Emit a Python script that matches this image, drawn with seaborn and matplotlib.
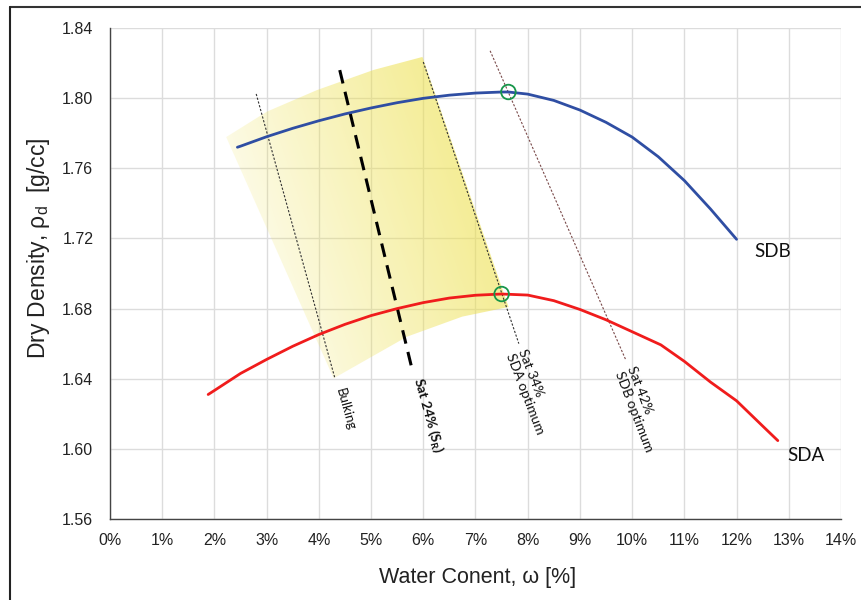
import numpy as np
import pandas as pd
import matplotlib
matplotlib.use("Agg")
import matplotlib.pyplot as plt
import seaborn as sns
from matplotlib.patches import Polygon
from matplotlib.lines import Line2D
from matplotlib.ticker import MultipleLocator, FuncFormatter

# ---------------- data ----------------
sdb_w = [2.44, 2.5, 3.0, 3.5, 4.0, 4.5, 5.0, 5.5, 6.0, 6.5, 7.0, 7.5, 7.63, 8.0,
         8.5, 9.0, 9.5, 10.0, 10.5, 11.0, 11.5, 12.0]
sdb_rho = [1.772, 1.7726, 1.7780, 1.7828, 1.7871, 1.7910, 1.7944, 1.7974, 1.7999, 1.8017,
           1.8029, 1.8035, 1.8035, 1.8023, 1.7987, 1.7932, 1.7862, 1.7778, 1.7666, 1.7530,
           1.7368, 1.7195]

sda_w = [1.88, 2.0, 2.5, 3.0, 3.5, 4.0, 4.5, 5.0, 5.5, 6.0, 6.5, 7.0, 7.5, 8.0, 8.5,
         9.0, 9.5, 10.0, 10.55, 11.0, 11.5, 12.0, 12.5, 12.79]
sda_rho = [1.631, 1.6333, 1.6430, 1.6510, 1.6585, 1.6652, 1.6710, 1.6760, 1.6800, 1.6834,
           1.6860, 1.6876, 1.6883, 1.6877, 1.6845, 1.6795, 1.6736, 1.6668, 1.6593, 1.6499,
           1.6381, 1.6274, 1.6130, 1.6047]

optimum_w = [7.63, 7.5]
optimum_rho = [1.8035, 1.6883]

zone_w = [2.225, 3.005, 3.964, 5.050, 5.984, 7.633, 6.745, 5.690, 4.283]
zone_rho = [1.7778, 1.7923, 1.8046, 1.8161, 1.8235, 1.6809, 1.6754, 1.6640, 1.6402]

bulking_w = [2.80, 4.31]
bulking_rho = [1.8024, 1.640]
sat24_w = [4.40, 5.77]
sat24_rho = [1.816, 1.6473]
sat34_w = [6.00, 7.83]
sat34_rho = [1.8206, 1.660]
sat42_w = [7.28, 9.88]
sat42_rho = [1.827, 1.6506]

x_ticks = list(range(0, 15))
y_ticks = [1.56, 1.60, 1.64, 1.68, 1.72, 1.76, 1.80, 1.84]

# ---------------- style ----------------
sns.set_style("white")
plt.rcParams['font.family'] = ['Liberation Sans', 'DejaVu Sans']
plt.rcParams['mathtext.fontset'] = 'custom'
plt.rcParams['mathtext.rm'] = 'Liberation Sans'
plt.rcParams['mathtext.bf'] = 'Lato:bold'

fig = plt.figure(figsize=(8.62, 6.0), dpi=100)
ax = fig.add_axes([110/862, 1-519/600, 731/862, 491/600])
ax.set_xlim(0, 14)
ax.set_ylim(1.56, 1.84)

# grid
ax.set_xticks(x_ticks)
ax.set_yticks(y_ticks)
ax.grid(True, which='major', color='#dcdcdc', linewidth=1.0, zorder=0)
ax.set_axisbelow(True)

# gradient zone
verts = np.column_stack([zone_w, zone_rho])
poly = Polygon(verts, closed=True, facecolor='none', edgecolor='none', transform=ax.transData)
ax.add_patch(poly)
gx = np.linspace(1.5, 8.5, 400)
gy = np.linspace(1.62, 1.84, 300)
GX, GY = np.meshgrid(gx, gy)
U = GX * 52.14
V = (1.84 - GY) * 491 / 0.28
T = (U * 284 - V * 95) / np.hypot(284, 95)
t0, t1 = 15.0, 295.0
a = np.clip((T - t0) / (t1 - t0), 0, 1) ** 0.9
rgba = np.zeros(GX.shape + (4,))
rgba[..., 0] = 0.93
rgba[..., 1] = 0.88
rgba[..., 2] = 0.30
rgba[..., 3] = 0.60 * a
im = ax.imshow(rgba, extent=(gx[0], gx[-1], gy[0], gy[-1]), origin='lower',
               aspect='auto', zorder=1, interpolation='bilinear')
im.set_clip_path(poly)

# reference lines
ax.plot(bulking_w, bulking_rho, color='#333333', lw=0.8, ls=(0, (2, 1.5)), zorder=2)
ax.plot(sat24_w, sat24_rho, color='black', lw=2.2, ls=(0, (4.5, 2.8)), zorder=2)
ax.plot(sat34_w, sat34_rho, color='#333333', lw=0.8, ls=(0, (2, 1.5)), zorder=2)
ax.plot(sat42_w, sat42_rho, color='#7a4a4a', lw=0.8, ls=(0, (2, 1.5)), zorder=2)

# curves
df_b = pd.DataFrame({'w': sdb_w, 'rho': sdb_rho})
df_a = pd.DataFrame({'w': sda_w, 'rho': sda_rho})
sns.lineplot(data=df_b, x='w', y='rho', color='#2f4ea3', lw=2.0, sort=False,
             estimator=None, ax=ax, zorder=3)
sns.lineplot(data=df_a, x='w', y='rho', color='#f01c1c', lw=2.0, sort=False,
             estimator=None, ax=ax, zorder=3)
sns.scatterplot(x=optimum_w, y=optimum_rho, s=110, facecolor='none',
                edgecolor='#17964a', linewidth=1.3, ax=ax, zorder=4)

# spines / ticks
for s in ['top', 'right']:
    ax.spines[s].set_visible(False)
for s in ['left', 'bottom']:
    ax.spines[s].set_color('#444444')
    ax.spines[s].set_linewidth(1.0)
ax.xaxis.set_minor_locator(MultipleLocator(0.5))
ax.yaxis.set_minor_locator(MultipleLocator(0.01))
ax.tick_params(axis='both', which='major', direction='inout', length=8, width=1,
               color='#444444', labelsize=11.5, labelcolor='#222222')
ax.tick_params(axis='both', which='minor', direction='in', length=4, width=1, color='#444444')
ax.tick_params(axis='y', which='major', pad=8)
ax.tick_params(axis='x', which='major', pad=6)
ax.xaxis.set_major_formatter(FuncFormatter(lambda v, p: f"{v:.0f}%"))
ax.yaxis.set_major_formatter(FuncFormatter(lambda v, p: f"{v:.2f}"))

ax.set_xlabel('Water Conent, ω [%]', fontsize=15.5, color='#222222')
ax.set_ylabel(r'Dry Density, ρ$_\mathrm{d}$  [g/cc]', fontsize=16.5, color='#222222')
ax.xaxis.set_label_coords(0.503, -0.098)
ax.yaxis.set_label_coords(-0.079, 0.552)

# annotations
txt = dict(family=['Lato', 'DejaVu Sans'], color='#111111')
ax.text(12.34, 1.7123, 'SDB', fontsize=13.5, ha='left', va='center', **txt)
ax.text(12.98, 1.5962, 'SDA', fontsize=13.5, ha='left', va='center', **txt)
ax.text(4.51, 1.6227, 'Bulking', fontsize=9.5, rotation=-74.5, ha='center', va='center',
        rotation_mode='anchor', **txt)
ax.text(6.09, 1.6193, r'Sat 24% (S$_\mathbf{R}$)', fontsize=10, fontweight='bold', rotation=-74.5,
        ha='center', va='center', rotation_mode='anchor', **txt)
ax.text(8.06, 1.6326, 'Sat 34%\nSDA optimum', fontsize=10, rotation=-69, ha='center', va='center',
        multialignment='left', linespacing=1.1, rotation_mode='anchor', **txt)
ax.text(10.15, 1.6227, 'Sat 42%\nSDB optimum', fontsize=10, rotation=-69, ha='center', va='center',
        multialignment='left', linespacing=1.1, rotation_mode='anchor', **txt)

# figure frame (top and left)
fig.add_artist(Line2D([10/862, 1.0], [1-7/600, 1-7/600], transform=fig.transFigure, color='#333333', lw=1.5))
fig.add_artist(Line2D([10/862, 10/862], [0, 1-7/600], transform=fig.transFigure, color='#222222', lw=1.5))

fig.savefig('out.png', dpi=100)
